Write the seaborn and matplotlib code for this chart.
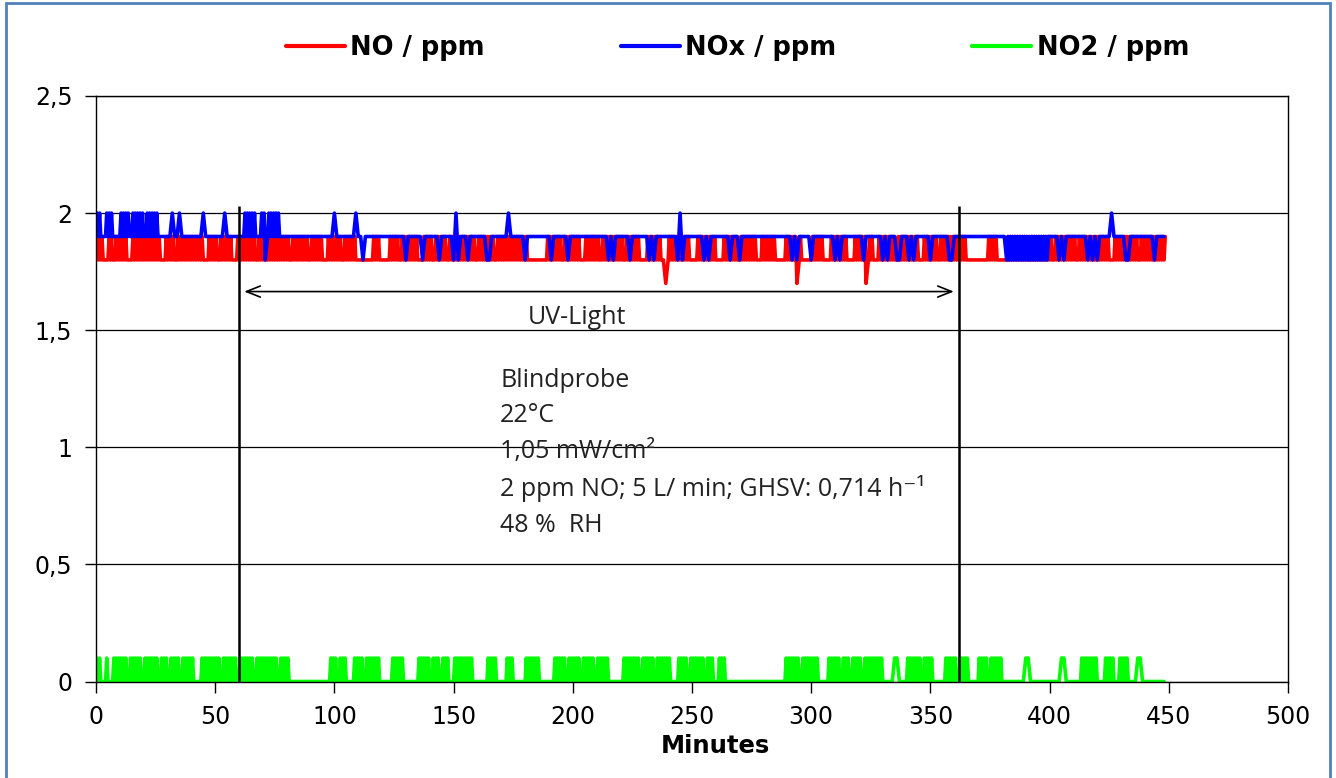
import pandas as pd
import seaborn as sns
import matplotlib.pyplot as plt
from matplotlib.patches import Rectangle

# one character per minute (0..448), in blocks of 10
# "x"/"y" = reading flickers between two levels within that minute
# NO / ppm: 0=1.7, 1=1.8, 2=1.9, x=1.8<->1.9
no_rows = [
    "xxx11xx1xx xxx11xxxxx xxxxxxx11x xxx1xxxxxx xxxxx11xxx",
    "x1xxxxx11x xxxxxxx1xx xxxxxxxxxx x1xxxxxxx1 xxxxx11xxx",
    "xxx1xxxxx1 111111xxx1 111xxxx1xx xxxxx11xxx x1xxxxx1xx",
    "xxxxxxxxx1 xxxxxxx1xx xxxxxxxxxx x11111111x xxxxx1xxxx",
    "xxx11xxxxx x1xxxxxxxx x1xxxxxx11 1xxxxxx110 xxxxxxxxx1",
    "11xxxxxxxx 111xxxxxx1 xxxxxxx11x xxxxx1111x xxxx0x1111",
    "xxxxx111xx xxxxx111xx xxx0xx11xx xxxxx1xxxx xxxxx11xxx",
    "xxx1xxxxxx xxxxx11111 1111xxxx11 111xxxxxxx x1xxxxxxxx",
    "x1xxxxxxxx x1xxxxxxxx xxxxx11xxx xxxxxxx1xx xxxxxxxxx",
]
# NOx / ppm: 0=1.8, 1=1.9, 2=2.0, x=1.9<->2.0, y=1.8<->1.9
nox_rows = [
    "xx11xxx111 xxxx1xxxxx 1xxxxx1111 1121121111 1111121111",
    "1111211111 11xxxxx11x x0xxxxx111 1111111111 1111111111",
    "2111111112 1101111111 1111111111 0111111011 1111011111",
    "0201110111 1111001111 1112111111 0111111111 1011111101",
    "1111111111 1111101011 1111011111 1101011111 1111020111",
    "1111101011 1111110111 0111111111 1111111111 1101011111",
    "0111111111 0101111111 1101111111 0101110011 1010111111",
    "0111111100 1111111111 1111111111 11yyyyyyyy yyyyyyyyyy",
    "1111010111 1111110101 0111112111 1100111111 111101111",
]
# NO2 / ppm: 0=0.0, 1=0.1, x=0.0<->0.1
no2_rows = [
    "xx00x00xxx xxx0xxxxx0 xxxxxx0xxx 0xxxx0xxxx x000xxxxxx",
    "xx0xxxxxx0 xxxxxx0xxx xxxxxx0xxx x000000000 00000000xx",
    "x0xxx000xx xx0xxxxxx0 0000xxxxx0 00000xxxxx 0xxx0xxx00",
    "xxxxxxxx00 0000xxxx00 00xxx00000 xxxxxx0000 00xxxxx0xx",
    "xxx0xxxxx0 xxxxx00000 0xxxxxxx0x xxxx0xxxxx x000xxxx0x",
    "xxxxx0xxx0 0xxx000000 0000000000 000000000x xxxxx0xxxx",
    "xxx0000xxx xx0xxx0xxx x0xxxxxxxx 0000011000 xxxxxx0xxx",
    "x00000xxxx x0xxxx0000 xxxx0xxxxx 0000000000 1100000000",
    "0000011000 000xxxxxxx 000xxxx00x xxx0000110 000000000",
]
series_names = ["NO / ppm", "NOx / ppm", "NO2 / ppm"]
series_levels = [
    {"0": 1.7, "1": 1.8, "2": 1.9, "x": (1.8, 1.9)},
    {"0": 1.8, "1": 1.9, "2": 2.0, "x": (1.9, 2.0), "y": (1.8, 1.9)},
    {"0": 0.0, "1": 0.1, "x": (0.0, 0.1)},
]
series_colors = ["#FF0000", "#0000FF", "#00FF00"]

uv_on, uv_off = 60, 362
info_lines = ["Blindprobe", "22°C", "1,05 mW/cm²",
              "2 ppm NO; 5 L/ min; GHSV: 0,714 h⁻¹", "48 %  RH"]

frames = []
for name, rows, levels in zip(series_names, [no_rows, nox_rows, no2_rows], series_levels):
    xs, ys = [], []
    for m, c in enumerate("".join(rows).replace(" ", "")):
        lv = levels[c]
        if isinstance(lv, tuple):
            xs += [m, m + 0.5]
            ys += [lv[0], lv[1]]
        else:
            xs.append(m)
            ys.append(lv)
    frames.append(pd.DataFrame({"Minutes": xs, "ppm": ys, "series": name}))
df = pd.concat(frames, ignore_index=True)

sns.set_style("white")
plt.rcParams["font.family"] = ["DejaVu Sans"]
plt.rcParams["text.color"] = "black"
plt.rcParams["axes.labelcolor"] = "black"

fig = plt.figure(figsize=(13.36, 7.78), dpi=100)
ax = fig.add_axes([96 / 1336, 1 - 681.5 / 778, 1192 / 1336, 585.5 / 778])

sns.lineplot(data=df, x="Minutes", y="ppm", hue="series", hue_order=series_names,
             palette=series_colors, estimator=None, sort=False, lw=2.6, ax=ax)

ax.set_xlim(0, 500)
ax.set_ylim(0, 2.5)
ax.set_xticks(range(0, 501, 50))
yt = [0, 0.5, 1, 1.5, 2, 2.5]
ax.set_yticks(yt)
ax.set_yticklabels([f"{v:g}".replace(".", ",") for v in yt])
ax.tick_params(direction="out", length=8, width=1, labelsize=17, pad=9,
               left=True, bottom=True, colors="black")
ax.yaxis.grid(True, color="black", lw=0.9)
ax.set_axisbelow(True)
for s in ax.spines.values():
    s.set_color("black")
    s.set_linewidth(1)
ax.set_ylabel("")
ax.set_xlabel("Minutes", fontsize=17.5, fontweight="bold", labelpad=0)
ax.xaxis.set_label_coords(0.52, -0.09)

# UV on/off markers
ax.vlines([uv_on, uv_off], 0, 2.03, color="black", lw=1.8, zorder=5)
ax.annotate("", xy=(uv_on + 1, 1.665), xytext=(uv_off - 1, 1.665),
            arrowprops=dict(arrowstyle="<->,head_length=1.0,head_width=0.4",
                            color="black", lw=1.2))
ax.text(181, 1.553, "UV-Light", fontsize=18, va="center", ha="left", color="#222222",
        family=["Open Sans", "DejaVu Sans"])
ax.text(169.5, 1.34, "\n".join(info_lines), fontsize=18, va="top", ha="left",
        linespacing=1.55, color="#222222", family=["Open Sans", "DejaVu Sans"])

handles, labels = ax.get_legend_handles_labels()
ax.get_legend().remove()
leg = fig.legend(handles, labels, loc="center", bbox_to_anchor=(0.552, 0.938), ncol=3,
                 frameon=False, prop={"weight": "bold", "size": 18.5},
                 handlelength=2.3, handletextpad=0.2, columnspacing=5.3)
for h in leg.get_lines():
    h.set_linewidth(3)

fig.patches.append(Rectangle((6 / 1336, -0.02), 1324 / 1336, 1.016, transform=fig.transFigure,
                             fill=False, edgecolor="#4F81BD", lw=2))

fig.savefig("out.png", dpi=100)
